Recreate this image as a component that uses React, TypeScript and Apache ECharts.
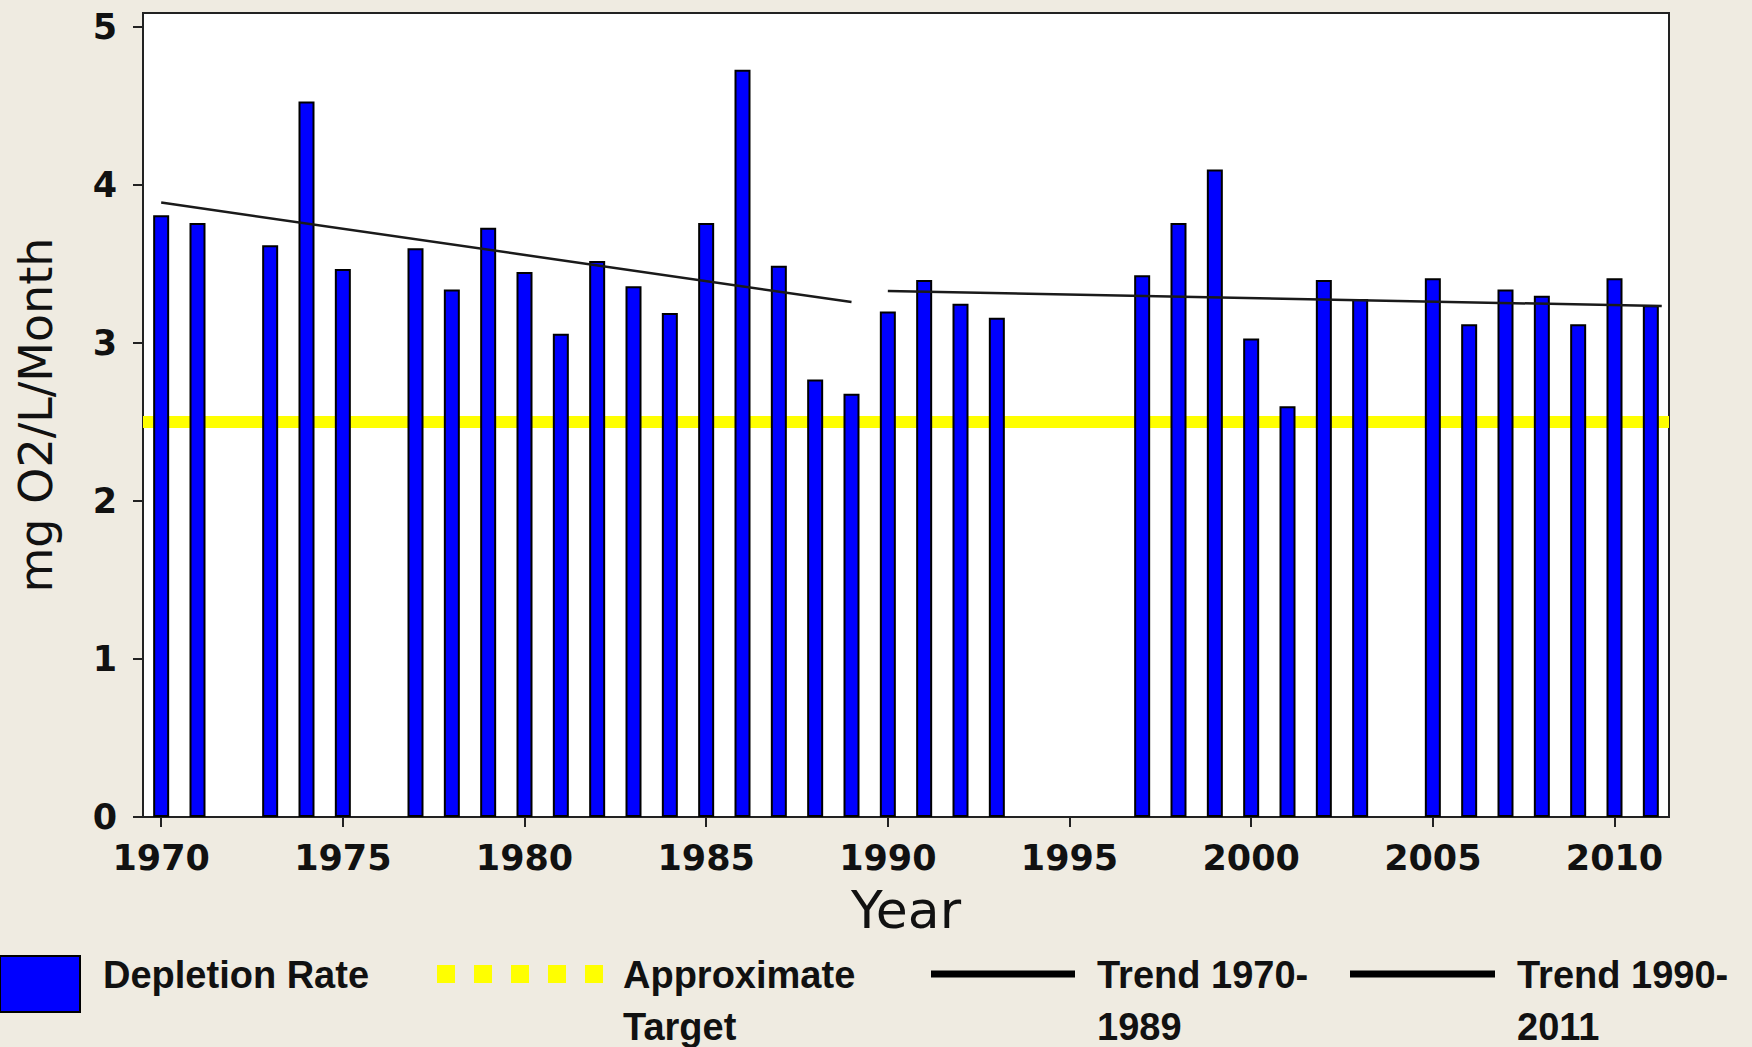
import React, { useEffect, useRef } from "react";
import * as echarts from "echarts";

const years = [
  "1970", "1971", "1972", "1973", "1974", "1975", "1976", "1977", "1978", "1979",
  "1980", "1981", "1982", "1983", "1984", "1985", "1986", "1987", "1988", "1989",
  "1990", "1991", "1992", "1993", "1994", "1995", "1996", "1997", "1998", "1999",
  "2000", "2001", "2002", "2003", "2004", "2005", "2006", "2007", "2008", "2009",
  "2010", "2011",
];

const depletionRate: (number | null)[] = [
  3.81, 3.76, null, 3.62, 4.53, 3.47, null, 3.6, 3.34, 3.73,
  3.45, 3.06, 3.52, 3.36, 3.19, 3.76, 4.73, 3.49, 2.77, 2.68,
  3.2, 3.4, 3.25, 3.16, null, null, null, 3.43, 3.76, 4.1,
  3.03, 2.6, 3.4, 3.28, null, 3.41, 3.12, 3.34, 3.3, 3.12,
  3.41, 3.24,
];

const labelYears = ["1970", "1975", "1980", "1985", "1990", "1995", "2000", "2005", "2010"];
const yTicks = [0, 1, 2, 3, 4, 5];

const target = [
  [1969.5, 2.5],
  [2011.5, 2.5],
];
const trend1970_1989 = [
  [1970, 3.89],
  [1989, 3.26],
];
const trend1990_2011 = [
  [1990, 3.33],
  [2011.3, 3.235],
];

const legendFont = {
  fontFamily: "Liberation Sans, Arial, sans-serif",
  fontWeight: "bold" as const,
  fontSize: 38,
  fill: "#111",
};

export default function App() {
  const ref = useRef<HTMLDivElement>(null);

  useEffect(() => {
    if (!ref.current) return;
    const chart = echarts.init(ref.current, undefined, { renderer: "svg" });
    const showYear = (_i: number, v: string) => labelYears.indexOf(v) >= 0;
    const axisColor = "#222";

    chart.setOption({
      animation: false,
      backgroundColor: "#EFEBE1",
      grid: {
        left: 143,
        top: 13,
        right: 83,
        bottom: 230,
        show: true,
        backgroundColor: "#ffffff",
        borderColor: axisColor,
        borderWidth: 2,
        containLabel: false,
      },
      xAxis: [
        {
          type: "category",
          data: years,
          boundaryGap: true,
          axisLine: { show: true, lineStyle: { color: axisColor, width: 2 } },
          axisTick: {
            show: true,
            alignWithLabel: true,
            interval: showYear,
            length: 10,
            lineStyle: { color: axisColor, width: 2 },
          },
          axisLabel: {
            interval: showYear,
            fontFamily: "DejaVu Sans",
            fontWeight: "bold",
            fontSize: 35,
            color: "#111",
            margin: 23,
          },
          splitLine: { show: false },
          name: "Year",
          nameLocation: "middle",
          nameGap: 67,
          nameTextStyle: { fontFamily: "DejaVu Sans", fontSize: 52, color: "#111" },
        },
        {
          type: "value",
          min: 1969.5,
          max: 2011.5,
          show: false,
        },
      ],
      yAxis: {
        type: "value",
        min: 0,
        max: 5.09,
        interval: 1,
        axisLine: { show: true, lineStyle: { color: axisColor, width: 2 } },
        axisTick: {
          show: true,
          length: 10,
          customValues: yTicks,
          lineStyle: { color: axisColor, width: 2 },
        },
        axisLabel: {
          customValues: yTicks,
          formatter: (v: number) => (Number.isInteger(v) ? String(v) : ""),
          fontFamily: "DejaVu Sans",
          fontWeight: "bold",
          fontSize: 35,
          color: "#111",
          margin: 26,
        },
        splitLine: { show: false },
        name: "mg O2/L/Month",
        nameLocation: "middle",
        nameGap: 84,
        nameTextStyle: { fontFamily: "DejaVu Sans", fontSize: 46, color: "#111" },
      },
      series: [
        {
          name: "Approximate Target",
          type: "line",
          xAxisIndex: 1,
          data: target,
          symbol: "none",
          lineStyle: { color: "#FFFF00", width: 12 },
          z: 1,
          silent: true,
        },
        {
          name: "Depletion Rate",
          type: "bar",
          xAxisIndex: 0,
          data: depletionRate,
          barWidth: 16,
          itemStyle: { color: "#0000FF", borderColor: "#000", borderWidth: 2 },
          z: 2,
        },
        {
          name: "Trend 1970-1989",
          type: "line",
          xAxisIndex: 1,
          data: trend1970_1989,
          symbol: "none",
          lineStyle: { color: "#1a1a1a", width: 2.5 },
          z: 3,
        },
        {
          name: "Trend 1990-2011",
          type: "line",
          xAxisIndex: 1,
          data: trend1990_2011,
          symbol: "none",
          lineStyle: { color: "#1a1a1a", width: 2.5 },
          z: 3,
        },
      ],
      graphic: [
        {
          type: "rect",
          shape: { x: 0, y: 956, width: 80, height: 56 },
          style: { fill: "#0000FF", stroke: "#000", lineWidth: 2 },
        },
        {
          type: "text",
          x: 103,
          y: 975,
          style: { ...legendFont, text: "Depletion Rate", verticalAlign: "middle" },
        },
        ...[437, 474, 511, 548, 585].map((x) => ({
          type: "rect",
          shape: { x, y: 965, width: 18, height: 18 },
          style: { fill: "#FFFF00" },
        })),
        {
          type: "text",
          x: 623,
          y: 975,
          style: { ...legendFont, text: "Approximate", verticalAlign: "middle" },
        },
        {
          type: "text",
          x: 623,
          y: 1027,
          style: { ...legendFont, text: "Target", verticalAlign: "middle" },
        },
        {
          type: "line",
          shape: { x1: 931, y1: 974, x2: 1075, y2: 974 },
          style: { stroke: "#000", lineWidth: 7 },
        },
        {
          type: "text",
          x: 1097,
          y: 975,
          style: { ...legendFont, text: "Trend 1970-", verticalAlign: "middle" },
        },
        {
          type: "text",
          x: 1097,
          y: 1027,
          style: { ...legendFont, text: "1989", verticalAlign: "middle" },
        },
        {
          type: "line",
          shape: { x1: 1350, y1: 974, x2: 1495, y2: 974 },
          style: { stroke: "#000", lineWidth: 7 },
        },
        {
          type: "text",
          x: 1517,
          y: 975,
          style: { ...legendFont, text: "Trend 1990-", verticalAlign: "middle" },
        },
        {
          type: "text",
          x: 1517,
          y: 1027,
          style: { ...legendFont, text: "2011", verticalAlign: "middle" },
        },
      ],
    });

    return () => chart.dispose();
  }, []);

  return (
    <div
      ref={ref}
      style={{ position: "fixed", left: 0, top: 0, width: 1752, height: 1047 }}
    />
  );
}
